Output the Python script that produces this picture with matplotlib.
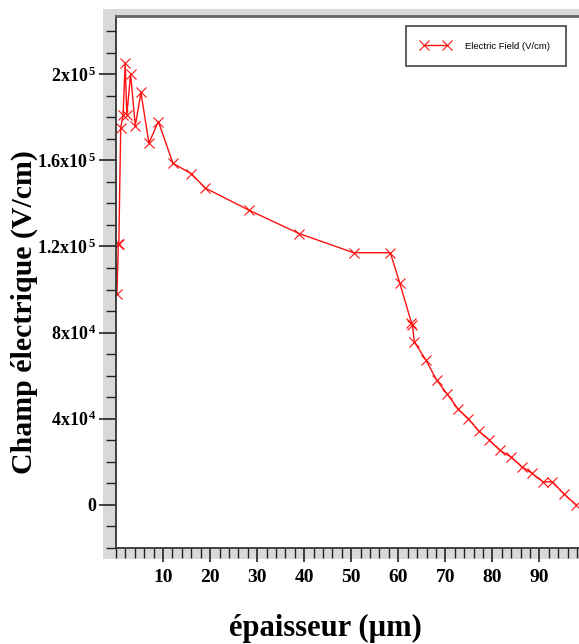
import matplotlib
matplotlib.use("Agg")
import matplotlib.pyplot as plt
import numpy as np
from matplotlib.patches import Rectangle
from matplotlib.ticker import MultipleLocator, FixedLocator

# epaisseur (um) et champ electrique (V/cm)
epaisseur = [0.2, 0.5, 0.6, 1.0, 1.5, 1.95, 2.3, 3.1, 4.1, 5.3, 7.0, 9.0,
             12.1, 16.0, 19.0, 28.2, 38.9, 50.5, 58.3, 60.3, 62.8, 63.0,
             63.4, 65.9, 68.2, 70.4, 72.7, 74.9, 77.2, 79.3, 81.6, 84.0,
             86.2, 88.4, 90.8, 92.7, 95.2, 97.8]
champ = [0.98e5, 1.21e5, 1.21e5, 1.75e5, 1.81e5, 2.05e5, 1.81e5, 2.0e5,
         1.76e5, 1.915e5, 1.68e5, 1.78e5, 1.586e5, 1.538e5, 1.471e5,
         1.369e5, 1.26e5, 1.171e5, 1.171e5, 1.031e5, 0.845e5, 0.835e5,
         0.757e5, 0.671e5, 0.578e5, 0.515e5, 0.445e5, 0.40e5, 0.341e5,
         0.302e5, 0.253e5, 0.222e5, 0.178e5, 0.147e5, 0.106e5, 0.108e5,
         0.051e5, 0.0]

yticks = [0, 4e4, 8e4, 1.2e5, 1.6e5, 2e5]
ylabels = ["0", "4x10$^{\\,4}$", "8x10$^{\\,4}$", "1.2x10$^{\\,5}$", "1.6x10$^{\\,5}$", "2x10$^{\\,5}$"]
xticks = [10, 20, 30, 40, 50, 60, 70, 80, 90]

plt.rcParams["mathtext.fontset"] = "custom"
plt.rcParams["mathtext.rm"] = "Liberation Serif:bold"
plt.rcParams["mathtext.it"] = "Liberation Serif:bold"
plt.rcParams["mathtext.bf"] = "Liberation Serif:bold"

W, H = 579, 644
fig = plt.figure(figsize=(W / 100, H / 100), dpi=100)
fig.patches.append(Rectangle((103 / W, 1 - 559 / H), 1 - 103 / W, (559 - 9) / H,
                             transform=fig.transFigure, facecolor="#d9d9d9",
                             edgecolor="none", zorder=-1))

ax = fig.add_axes([116 / W, 1 - 548 / H, 1 - 116 / W, (548 - 16) / H])
ax.set_zorder(2)
ax.set_facecolor("white")
ax.plot(epaisseur, champ, color="#ff1010", linewidth=1.0, marker="x",
        markersize=6.5, markeredgewidth=0.8, label="Electric Field (V/cm)")

ax.set_xlim(0, 98.4)
ax.set_ylim(-2e4, 2.27e5)
ax.xaxis.set_major_locator(FixedLocator(xticks))
ax.xaxis.set_minor_locator(MultipleLocator(2))
ax.yaxis.set_major_locator(FixedLocator(yticks))
ax.yaxis.set_minor_locator(MultipleLocator(1e4))
ax.set_yticklabels(ylabels)
ax.set_xticklabels([str(v) for v in xticks])

for lab in ax.get_xticklabels():
    lab.set_fontfamily("Liberation Serif")
    lab.set_fontweight("bold")
    lab.set_fontsize(14)
for lab in ax.get_yticklabels():
    lab.set_fontfamily("Liberation Serif")
    lab.set_fontweight("bold")
    lab.set_fontsize(13)

ax.tick_params(which="major", direction="out", length=12, width=1.2, color="#222222", pad=2)
ax.tick_params(which="minor", direction="out", length=7, width=1.0, color="#222222")
ax.tick_params(axis="x", which="major", length=10, pad=5)

ax.spines["right"].set_visible(False)
for s in ["left", "bottom"]:
    ax.spines[s].set_color("#333333")
    ax.spines[s].set_linewidth(1.3)
ax.spines["top"].set_color("#666666")
ax.spines["top"].set_linewidth(2)

leg = ax.legend(loc="upper left", bbox_to_anchor=(406 / W, 1 - 26 / H),
                bbox_transform=fig.transFigure, borderaxespad=0, numpoints=2,
                handlelength=3.0, handletextpad=1.6, borderpad=1.65,
                fancybox=False, framealpha=1,
                prop={"family": "Liberation Sans", "size": 6.8})
leg.get_frame().set_edgecolor("#444444")
leg.get_frame().set_linewidth(1.2)

fig.text(24 / W, 1 - 312 / H, "Champ électrique (V/cm)", rotation=90,
         ha="center", va="center", fontsize=21.5, fontweight="bold",
         family="Liberation Serif")
fig.text(325 / W, 1 - 628 / H, "épaisseur (µm)", ha="center", va="center",
         fontsize=22, fontweight="bold", family="Liberation Serif")

fig.savefig("out.png", dpi=100)
